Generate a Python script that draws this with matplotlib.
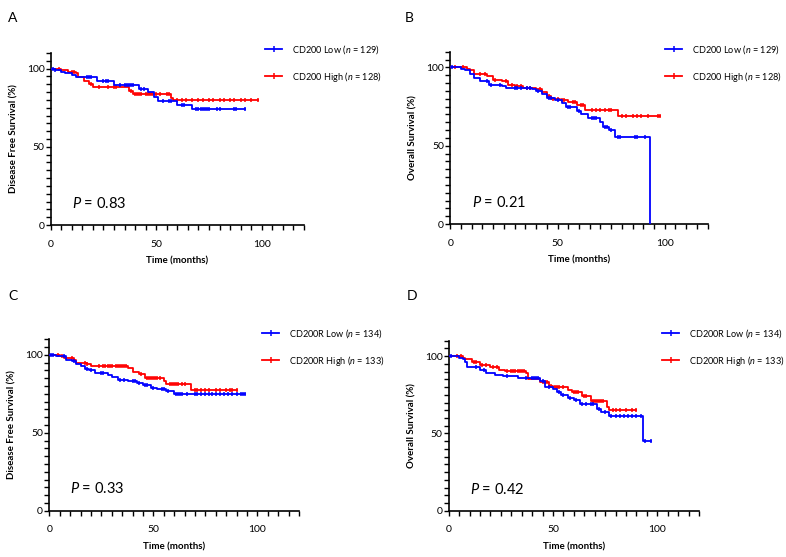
import numpy as np
import matplotlib
matplotlib.use("Agg")
import matplotlib.pyplot as plt
from matplotlib.lines import Line2D
from matplotlib.ticker import MultipleLocator

plt.rcParams['font.family'] = ['Lato', 'DejaVu Sans']
plt.rcParams['mathtext.fontset'] = 'custom'
plt.rcParams['mathtext.rm'] = 'Lato'
plt.rcParams['mathtext.it'] = 'Lato:italic'
plt.rcParams['mathtext.bf'] = 'Lato:bold'

# ---------------- data ----------------
# Panel A: Disease free survival, CD200
A_low_t = [0, 2, 5, 7, 10, 12, 22, 30, 42, 46, 49, 51, 60, 67]
A_low_s = [100, 99, 98, 97, 96, 94.5, 92, 89.6, 87, 85, 82, 79.5, 77, 74.4]
A_low_end = 92
A_low_cens = [1, 2, 17, 18, 19, 25, 26, 27, 33, 35, 36, 37, 38, 39, 43, 44, 53, 56,
              57, 62, 63, 69, 70, 71, 72, 73, 74, 75, 79, 80, 87, 88, 92]
A_high_t = [0, 5, 8, 12, 13, 16, 18, 20, 37, 39, 57, 58]
A_high_s = [100, 99, 98, 97, 94.5, 92, 90, 88.5, 86, 84, 81, 80.2]
A_high_end = 98
A_high_cens = [4, 10, 11, 19, 23, 27, 30, 31, 38, 40, 41, 42, 43, 45, 46, 47, 48, 50,
               52, 55, 56, 60, 62, 64, 67, 70, 72, 75, 77, 80, 82, 85, 87, 90, 92, 95, 98]

# Panel B: Overall survival, CD200
B_low_t = [0, 5, 7, 9, 11, 14, 18, 24, 26, 38, 40, 43, 45, 49, 52, 54, 59, 61, 64, 70,
           71, 74, 77, 93]
B_low_s = [100, 99, 98, 96, 93.2, 91, 89, 88, 86.6, 86, 85, 83, 80.5, 79, 77, 75, 72,
           70, 67.5, 65, 62, 60, 55.7, 0]
B_low_end = 93
B_low_cens = [1, 17, 19, 23, 30, 31, 33, 36, 37, 41, 46, 47, 50, 55, 56, 60, 66, 67, 68,
              72, 73, 75, 78, 79, 86, 87, 91]
B_high_t = [0, 8, 9, 11, 17, 20, 24, 27, 30, 34, 40, 43, 45, 47, 51, 55, 59, 63, 78]
B_high_s = [100, 99, 98, 96, 94.5, 92, 91, 89, 88, 87, 86, 84, 82, 80, 79, 78, 76,
            72.8, 68.9]
B_high_end = 98
B_high_cens = [2, 6, 14, 16, 21, 26, 29, 31, 33, 36, 37, 42, 46, 48, 50, 52, 53, 57, 58,
               61, 62, 66, 68, 70, 72, 74, 75, 80, 82, 85, 87, 89, 92, 97, 98]

# Panel C: Disease free survival, CD200R
C_low_t = [0, 3, 5, 8, 11, 13, 15, 17, 19, 22, 28, 30, 33, 38, 42, 45, 49, 52, 56, 60]
C_low_s = [100, 99.5, 99, 97, 96, 94, 93, 91.2, 90, 88.5, 87, 85.5, 84.2, 83.5, 82,
           80.6, 79, 78, 77, 75.2]
C_low_end = 94
C_low_cens = [1, 2, 7, 12, 18, 20, 25, 26, 34, 36, 40, 41, 43, 46, 47, 50, 54, 55, 57,
              61, 62, 63, 64, 66, 70, 71, 73, 75, 77, 78, 80, 82, 84, 86, 88, 90, 92, 93, 94]
C_high_t = [0, 5, 7, 12, 13, 18, 20, 38, 40, 43, 46, 55, 56, 68]
C_high_s = [100, 99, 98, 97, 95, 94.4, 92.7, 91.9, 89.1, 88, 85.3, 83, 81.6, 77.4]
C_high_end = 90
C_high_cens = [4, 6, 11, 17, 18, 24, 26, 27, 28, 29, 30, 32, 33, 34, 35, 36, 37, 44, 47,
               48, 49, 50, 51, 52, 53, 58, 59, 60, 61, 62, 64, 65, 70, 71, 73, 75, 77,
               80, 82, 85, 87, 88, 90]

# Panel D: Overall survival, CD200R
D_low_t = [0, 5, 7, 8, 9, 15, 18, 22, 26, 33, 44, 46, 50, 52, 54, 57, 60, 63, 71, 73,
           77, 93]
D_low_s = [100, 99, 98, 96, 93, 91, 88.8, 88, 87, 85.6, 84, 80.2, 79, 77, 75, 73, 71.6,
           69, 66, 64, 61, 45.3]
D_low_end = 97
D_low_cens = [1, 13, 17, 28, 37, 40, 41, 42, 43, 45, 48, 53, 55, 58, 61, 64, 66, 68, 69,
              72, 75, 78, 80, 82, 84, 86, 88, 90, 92, 94, 97]
D_high_t = [0, 7, 8, 11, 15, 20, 24, 27, 37, 38, 42, 44, 48, 50, 57, 59, 64, 68, 76, 77]
D_high_s = [100, 99, 98, 96, 94, 93, 91, 90.5, 89, 85.5, 85, 83, 81, 80, 78, 76.5, 74,
            71, 67, 65.1]
D_high_end = 90
D_high_cens = [4, 6, 12, 13, 16, 18, 21, 23, 28, 30, 31, 32, 33, 34, 35, 36, 45, 46, 47,
               49, 51, 52, 53, 55, 60, 61, 62, 65, 66, 69, 70, 71, 72, 73, 74, 79, 80,
               82, 85, 88, 90]

panel_letters = ["A", "B", "C", "D"]
ylabels = ["Disease Free Survival (%)", "Overall Survival (%)",
           "Disease Free Survival (%)", "Overall Survival (%)"]
xlabel = "Time (months)"
p_values = ["0.83", "0.21", "0.33", "0.42"]
low_labels = [r"CD200 Low ($\it{n}$ = 129)", r"CD200 Low ($\it{n}$ = 129)",
              r"CD200R Low ($\it{n}$ = 134)", r"CD200R Low ($\it{n}$ = 134)"]
high_labels = [r"CD200 High ($\it{n}$ = 128)", r"CD200 High ($\it{n}$ = 128)",
               r"CD200R High ($\it{n}$ = 133)", r"CD200R High ($\it{n}$ = 133)"]

curves = [
    ((A_low_t, A_low_s, A_low_end, A_low_cens), (A_high_t, A_high_s, A_high_end, A_high_cens)),
    ((B_low_t, B_low_s, B_low_end, B_low_cens), (B_high_t, B_high_s, B_high_end, B_high_cens)),
    ((C_low_t, C_low_s, C_low_end, C_low_cens), (C_high_t, C_high_s, C_high_end, C_high_cens)),
    ((D_low_t, D_low_s, D_low_end, D_low_cens), (D_high_t, D_high_s, D_high_end, D_high_cens)),
]

BLUE = "#0000FF"
RED = "#FF0000"

W, H = 786, 557
fig = plt.figure(figsize=(W / 100, H / 100), dpi=100)

# axes rectangles in pixels: (x_at_0, x_at_120, y_at_0, y_at_110)
rects_px = [
    (50.7, 304.0, 225.0, 53.0),
    (450.3, 707.6, 224.0, 51.7),
    (49.3, 298.9, 510.7, 339.3),
    (448.7, 699.0, 510.7, 340.7),
]
letter_px = [(8, 18), (405, 18), (8, 296), (407, 296)]
legend_px = [(265, 43), (665, 43), (262, 327), (662, 327)]


def draw_km(ax, t, s, end, cens, color):
    tt = list(t) + [end]
    ss = list(s) + [s[-1]]
    ax.step(tt, ss, where="post", color=color, lw=1.3, zorder=3)
    t_arr = np.array(t)
    cens_arr = np.array(cens, dtype=float)
    idx = np.searchsorted(t_arr, cens_arr, side="right") - 1
    ax.plot(cens_arr, np.array(s)[idx], linestyle="none", marker="|",
            markersize=3.5, mew=1.1, color=color, zorder=3)


for i in range(4):
    x0, x1, y0, y1 = rects_px[i]
    ax = fig.add_axes([x0 / W, 1 - y0 / H, (x1 - x0) / W, (y0 - y1) / H])
    low, high = curves[i]
    draw_km(ax, *high, RED)
    draw_km(ax, *low, BLUE)
    ax.set_xlim(0, 120)
    ax.set_ylim(0, 110)
    for sp in ["top", "right"]:
        ax.spines[sp].set_visible(False)
    for sp in ["left", "bottom"]:
        ax.spines[sp].set_linewidth(1.2)
    ax.set_xticks([0, 50, 100])
    ax.set_yticks([0, 50, 100])
    ax.xaxis.set_minor_locator(MultipleLocator(5))
    ax.yaxis.set_minor_locator(MultipleLocator(5))
    ax.tick_params(which="both", direction="out", length=3.5, width=1.0,
                   labelsize=7.5)
    ax.tick_params(axis="x", which="both", pad=7)
    ax.tick_params(axis="y", which="both", pad=1)
    ax.set_xlabel(xlabel, fontsize=7, fontweight="bold", labelpad=6)
    ax.set_ylabel(ylabels[i], fontsize=7, fontweight="bold", labelpad=6)
    ax.text(10, 14, r"$\it{P}$ = " + p_values[i], fontsize=10.5, va="center",
            ha="left")
    handles = [Line2D([], [], color=BLUE, lw=1.3, marker="|", markersize=4, mew=1.1),
               Line2D([], [], color=RED, lw=1.3, marker="|", markersize=4, mew=1.1)]
    lx, ly = legend_px[i]
    ax.legend(handles, [low_labels[i], high_labels[i]], loc="upper left",
              bbox_to_anchor=(lx / W, 1 - ly / H), bbox_transform=fig.transFigure,
              frameon=False, fontsize=6.6, handlelength=1.9, handletextpad=1.0,
              labelspacing=1.5, borderpad=0, borderaxespad=0, numpoints=1)
    lx2, ly2 = letter_px[i]
    fig.text(lx2 / W, 1 - ly2 / H, panel_letters[i], fontsize=10, va="center",
             ha="left")

fig.savefig("out.png", dpi=100)
